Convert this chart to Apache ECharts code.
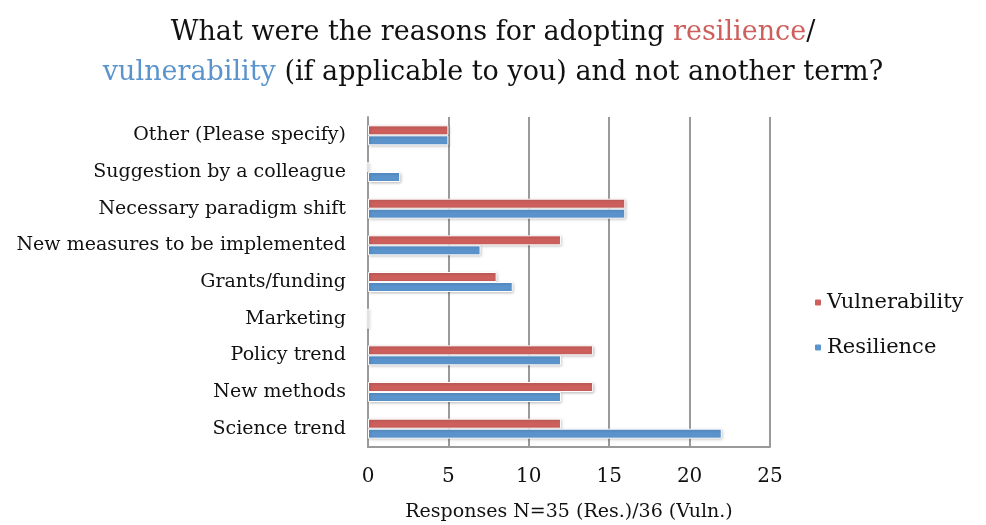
<!DOCTYPE html>
<html>
<head>
<meta charset="utf-8">
<script src="https://cdn.jsdelivr.net/npm/echarts@6/dist/echarts.min.js"></script>
<style>
  html, body { margin: 0; padding: 0; background: #fff; }
  #chart { width: 986px; height: 525px; }
</style>
</head>
<body>
<div id="chart"></div>
<script>
// categories bottom -> top (category y axis starts at the bottom)
var categories = [
  'Science trend',
  'New methods',
  'Policy trend',
  'Marketing',
  'Grants/funding',
  'New measures to be implemented',
  'Necessary paradigm shift',
  'Suggestion by a colleague',
  'Other (Please specify)'
]
var vulnerability = [12, 14, 14, 0, 8, 12, 16, 0, 5]
var resilience = [22, 12, 12, 0, 9, 7, 16, 2, 5]
var xTicks = [0, 5, 10, 15, 20, 25]

var font = 'DejaVu Serif'
var red = '#cd605d'
var blue = '#5b94cd'

var chart = echarts.init(document.getElementById('chart'))

var barStyle = function (color) {
  return {
    color: color,
    borderColor: '#fff',
    borderWidth: 1,
    shadowColor: 'rgba(0,0,0,0.25)',
    shadowBlur: 3,
    shadowOffsetX: 1,
    shadowOffsetY: 1
  }
}

chart.setOption({
  animation: false,
  title: {
    text: 'What were the reasons for adopting {r|resilience}/\n{b|vulnerability} (if applicable to you) and not another term?',
    left: 'center',
    top: 8,
    textStyle: {
      fontFamily: font,
      fontWeight: 'normal',
      fontSize: 27,
      color: '#111',
      lineHeight: 40,
      rich: {
        r: { color: red, fontFamily: font, fontSize: 27, lineHeight: 40 },
        b: { color: blue, fontFamily: font, fontSize: 27, lineHeight: 40 }
      }
    }
  },
  legend: {
    data: ['Vulnerability', 'Resilience'],
    orient: 'vertical',
    left: 808,
    top: 287,
    itemWidth: 8,
    itemHeight: 8,
    itemGap: 24,
    textStyle: { fontFamily: font, fontSize: 21, color: '#111' }
  },
  grid: {
    left: 368,
    right: 216,
    top: 117,
    bottom: 78,
    outerBoundsMode: 'none'
  },
  xAxis: {
    type: 'value',
    min: xTicks[0],
    max: xTicks[xTicks.length - 1],
    interval: 5,
    name: 'Responses N=35 (Res.)/36 (Vuln.)',
    nameLocation: 'middle',
    nameGap: 56,
    nameTextStyle: { fontFamily: font, fontSize: 19, color: '#111' },
    axisLine: { show: true, lineStyle: { color: '#9a9a9a', width: 2 } },
    axisTick: { show: false },
    axisLabel: { fontFamily: font, fontSize: 20, color: '#111', margin: 20 },
    splitLine: { show: true, lineStyle: { color: '#9a9a9a', width: 2 } }
  },
  yAxis: {
    type: 'category',
    data: categories,
    axisLine: { show: true, lineStyle: { color: '#9a9a9a', width: 2 } },
    axisTick: { show: false },
    axisLabel: { fontFamily: font, fontSize: 19, color: '#111', margin: 22 }
  },
  series: [
    {
      name: 'Vulnerability',
      type: 'bar',
      data: vulnerability,
      barWidth: 10,
      barGap: '0%',
      itemStyle: barStyle(red)
    },
    {
      name: 'Resilience',
      type: 'bar',
      data: resilience,
      barWidth: 10,
      barGap: '0%',
      itemStyle: barStyle(blue)
    }
  ]
})
</script>
</body>
</html>
